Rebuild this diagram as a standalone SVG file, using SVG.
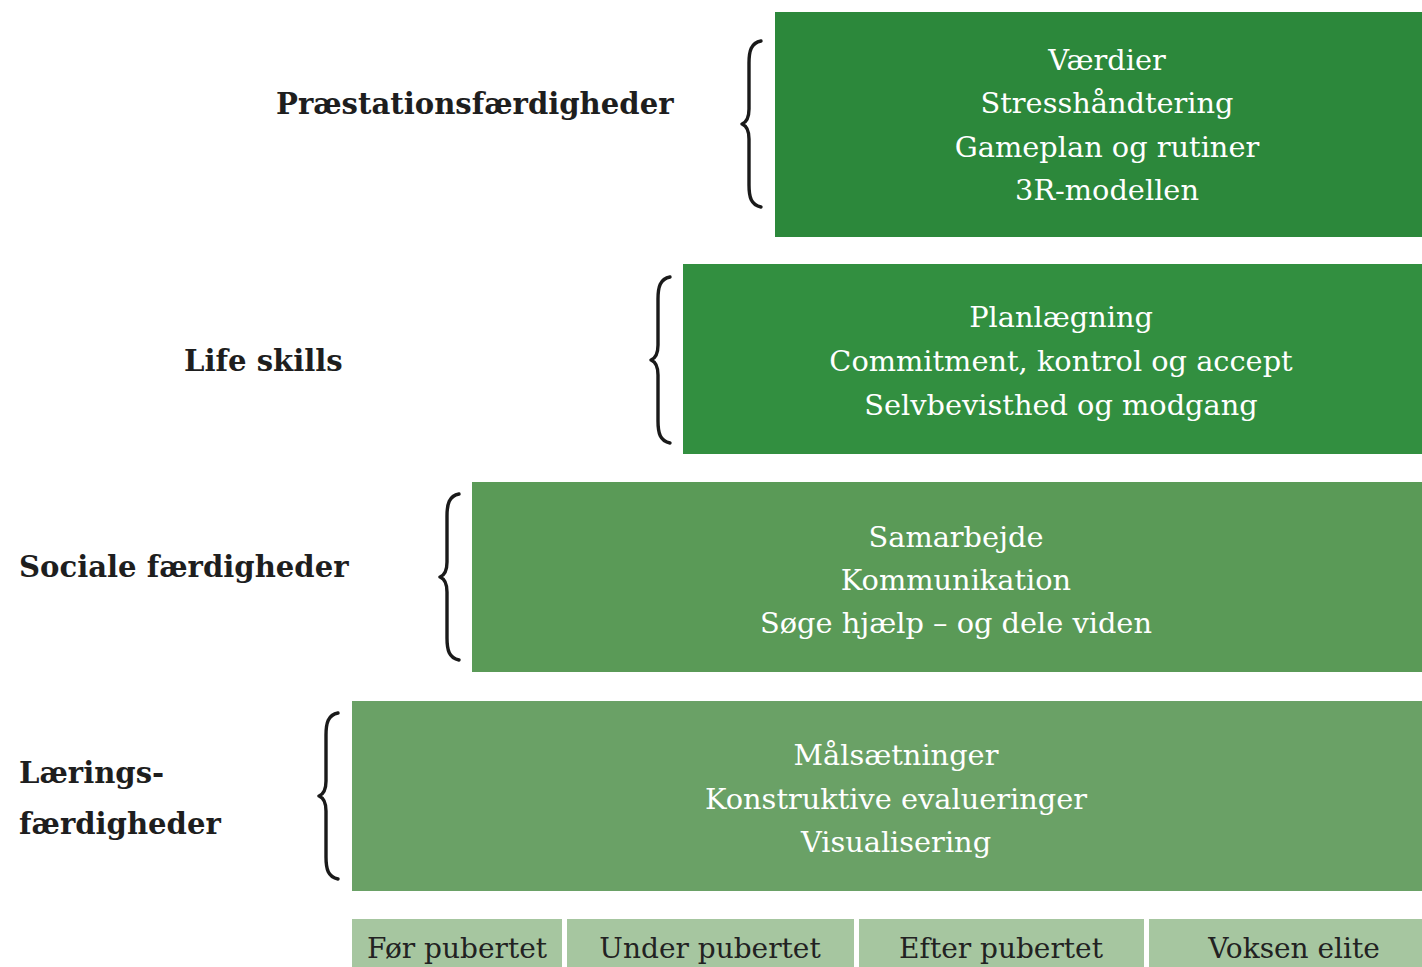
<svg xmlns="http://www.w3.org/2000/svg" width="1422" height="967" viewBox="0 0 1422 967">
<style>
.lbl{font-family:"DejaVu Serif","Liberation Serif",serif;font-weight:bold;font-size:29.1px;fill:#1e1e1e}
.bt{font-family:"DejaVu Serif","Liberation Serif",serif;font-size:28.8px;fill:#ffffff;text-anchor:middle}
.ct{font-family:"DejaVu Serif","Liberation Serif",serif;font-size:28px;fill:#222222;text-anchor:middle}
.brace{fill:none;stroke:#1a1a1a;stroke-width:3.4;stroke-linecap:round;stroke-linejoin:round}
</style>
<defs>
<path id="br" d="M19,0 C9,2 7,10 7,22 L7,68 C7,76 5,81 0,83 C5,85 7,90 7,98 L7,144 C7,156 9,164 19,166"/>
</defs>
<rect width="1422" height="967" fill="#ffffff"/>
<g id="praestation">
<rect x="775" y="12" width="647" height="225" fill="#2c883b"/>
<text class="bt" x="1107" y="70">Værdier</text>
<text class="bt" x="1107" y="113">Stresshåndtering</text>
<text class="bt" x="1107" y="157">Gameplan og rutiner</text>
<text class="bt" x="1107" y="200">3R-modellen</text>
<use href="#br" class="brace" x="742" y="41"/>
<text class="lbl" x="276" y="114">Præstationsfærdigheder</text>
</g>
<g id="lifeskills">
<rect x="683" y="264" width="739" height="190" fill="#328f40"/>
<text class="bt" x="1061" y="327">Planlægning</text>
<text class="bt" x="1061" y="371">Commitment, kontrol og accept</text>
<text class="bt" x="1061" y="415">Selvbevisthed og modgang</text>
<use href="#br" class="brace" x="651" y="277"/>
<text class="lbl" x="184" y="371">Life skills</text>
</g>
<g id="sociale">
<rect x="472" y="482" width="950" height="190" fill="#5a9a57"/>
<text class="bt" x="956" y="547">Samarbejde</text>
<text class="bt" x="956" y="590">Kommunikation</text>
<text class="bt" x="956" y="633">Søge hjælp – og dele viden</text>
<use href="#br" class="brace" x="440" y="494"/>
<text class="lbl" x="19" y="577">Sociale færdigheder</text>
</g>
<g id="laerings">
<rect x="352" y="701" width="1070" height="190" fill="#6aa166"/>
<text class="bt" x="896" y="765">Målsætninger</text>
<text class="bt" x="896" y="809">Konstruktive evalueringer</text>
<text class="bt" x="896" y="852">Visualisering</text>
<use href="#br" class="brace" x="319" y="713"/>
<text class="lbl" x="19" y="783">Lærings-</text>
<text class="lbl" x="19" y="834">færdigheder</text>
</g>
<g id="timeline">
<rect x="352" y="919" width="210" height="48" fill="#a6c6a0"/>
<rect x="567" y="919" width="287" height="48" fill="#a6c6a0"/>
<rect x="859" y="919" width="285" height="48" fill="#a6c6a0"/>
<rect x="1149" y="919" width="273" height="48" fill="#a6c6a0"/>
<text class="ct" x="457" y="958">Før pubertet</text>
<text class="ct" x="710" y="958">Under pubertet</text>
<text class="ct" x="1001" y="958">Efter pubertet</text>
<text class="ct" x="1294" y="958">Voksen elite</text>
</g>
<g id="connectors"></g>
</svg>
